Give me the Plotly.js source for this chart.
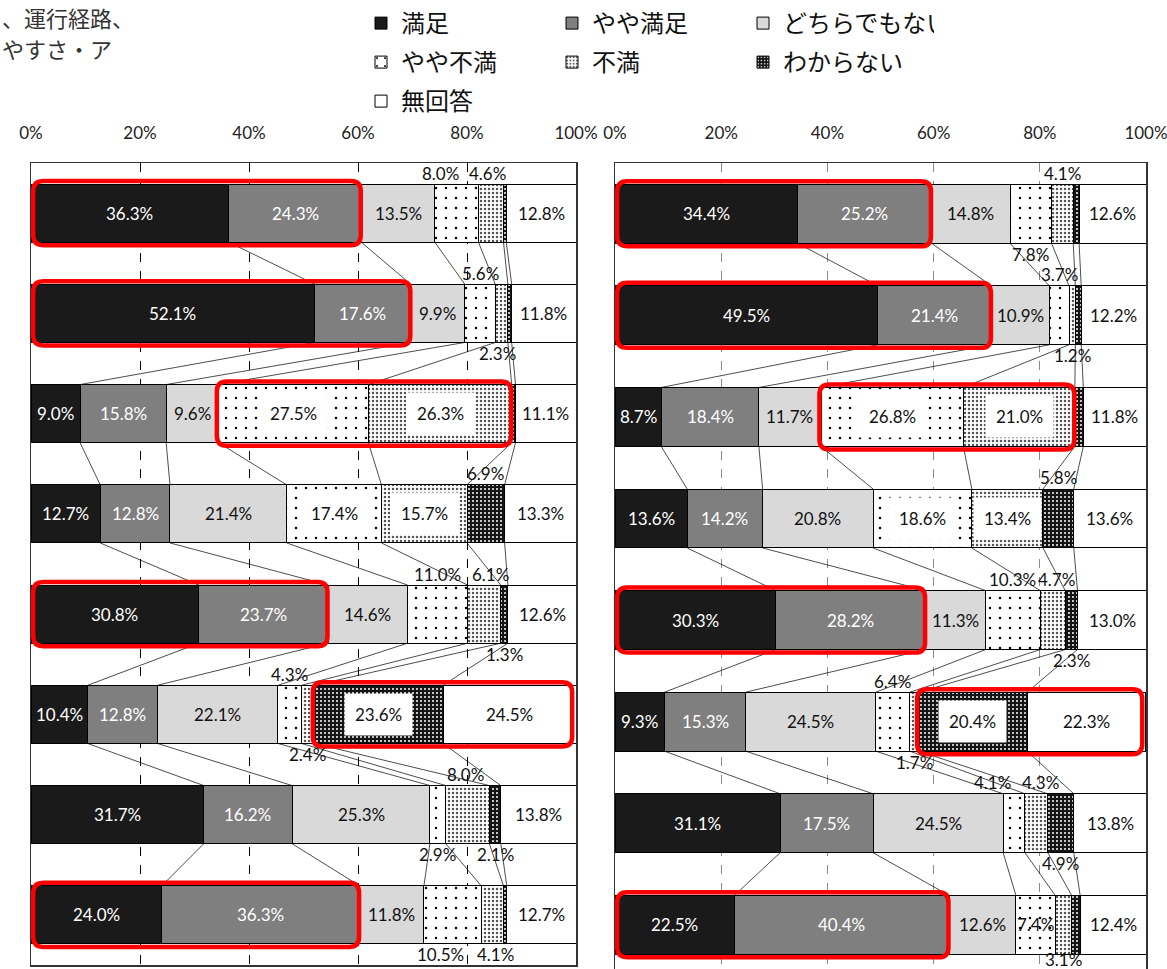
<!DOCTYPE html>
<html><head><meta charset="utf-8">
<script src="https://cdn.plot.ly/plotly-3.0.1.min.js"></script>
<style>html,body{margin:0;padding:0;overflow:hidden;background:#fff}#chart{width:1167px;height:969px}</style>
</head><body><div id="chart"></div><script>
// ---------- data ----------
const categories = ['満足','やや満足','どちらでもない','やや不満','不満','わからない','無回答'];
const items = [1,2,3,4,5,6,7,8];
// left panel
const L_manzoku      = [36.3,52.1, 9.0,12.7,30.8,10.4,31.7,24.0];
const L_yayaManzoku  = [24.3,17.6,15.8,12.8,23.7,12.8,16.2,36.3];
const L_dochira      = [13.5, 9.9, 9.6,21.4,14.6,22.1,25.3,11.8];
const L_yayaFuman    = [ 8.0, 5.6,27.5,17.4,11.0, 4.3, 2.9,10.5];
const L_fuman        = [ 4.6, 2.3,26.3,15.7, 6.1, 2.4, 8.0, 4.1];
const L_wakaranai    = [ 0.5, 0.7, 0.7, 6.9, 1.3,23.6, 2.1, 0.6];
const L_mukaito      = [12.8,11.8,11.1,13.3,12.6,24.5,13.8,12.7];
// right panel
const R_manzoku      = [34.4,49.5, 8.7,13.6,30.3, 9.3,31.1,22.5];
const R_yayaManzoku  = [25.2,21.4,18.4,14.2,28.2,15.3,17.5,40.4];
const R_dochira      = [14.8,10.9,11.7,20.8,11.3,24.5,24.5,12.6];
const R_yayaFuman    = [ 7.8, 3.7,26.8,18.6,10.3, 6.4, 4.1, 7.4];
const R_fuman        = [ 4.1, 1.2,21.0,13.4, 4.7, 1.7, 4.3, 3.1];
const R_wakaranai    = [ 1.1, 1.1, 1.6, 5.8, 2.3,20.4, 4.9, 1.6];
const R_mukaito      = [12.6,12.2,11.8,13.6,13.0,22.3,13.8,12.4];
const xTickVals = [0,20,40,60,80,100];
const xTickText = ['0%','20%','40%','60%','80%','100%'];
const titleLines = ['、運行経路、','やすさ・ア'];

// ---------- label / highlight placement (not data) ----------
// [item, categoryIndex, 'a'bove/'b'elow, xshift px, yshift px]
const outsideL = [[1,3,'a',-16,0],[1,4,'a',-3,0],[2,3,'a',0,0],[2,4,'b',-4,0],[4,5,'a',0,0],[5,3,'a',0,0],[5,4,'a',6,0],[5,5,'b',0,0],
                  [6,3,'a',0,0],[6,4,'b',0,0],[7,4,'a',-2,0],[7,3,'b',0,0],[7,5,'b',0,0],[8,3,'b',-12,0],[8,4,'b',3,0]];
const outsideR = [[1,4,'a',0,0],[1,3,'b',0,0],[2,3,'a',0,0],[2,4,'b',0,0],[4,5,'a',0,0],[5,3,'a',0,0],[5,4,'a',4,0],[5,5,'b',0,0],
                  [6,3,'a',0,0],[6,4,'b',0,0],[7,3,'a',-22,0],[7,4,'a',4,0],[7,5,'b',0,0],[8,4,'b',0,6]];
// [item, firstCat, lastCat]
const highlightL = [[1,0,1],[2,0,1],[3,3,4],[5,0,1],[6,5,6],[8,0,1]];
const highlightR = [[1,0,1],[2,0,1],[3,3,4],[5,0,1],[6,5,6],[8,0,1]];

const NUMFONT = 'Lato, "Noto Sans CJK JP", sans-serif';
const JPFONT = '"Noto Sans CJK JP", sans-serif';

const styles = [
  {color:'#1a1a1a'},
  {color:'#7f7f7f'},
  {color:'#d9d9d9'},
  {color:'#ffffff', pattern:{shape:'.', fgcolor:'#000', bgcolor:'#fff', size:10, solidity:0.05}},
  {color:'#ffffff', pattern:{shape:'.', fgcolor:'#555', bgcolor:'#fff', size:4, solidity:0.3}},
  {color:'#111111', pattern:{shape:'.', fgcolor:'#fff', bgcolor:'#151515', size:4, solidity:0.2}},
  {color:'#ffffff'}
];
const legendOf = k => k<3 ? 'legend' : (k<6 ? 'legend2' : 'legend3');

const traces = [], annotations = [], shapes = [];

function buildPanel(data, xa, ya, outside, highlight, showLeg, pxPerPct) {
  const n = items.length;
  const cum = items.map((_,i)=>{ const c=[0]; data.forEach(arr=>c.push(c[c.length-1]+arr[i])); return c; });
  data.forEach((arr,k)=>{
    const m = {color:styles[k].color, line:{color:'#000', width:1}};
    if (styles[k].pattern) m.pattern = styles[k].pattern;
    traces.push({type:'bar', orientation:'h', name:categories[k], x:arr, y:items, width:0.58,
      xaxis:xa, yaxis:ya, marker:m, showlegend:showLeg, legend:legendOf(k), hoverinfo:'skip'});
  });
  // series lines
  const lx=[], ly=[];
  for (let i=0;i<n-1;i++) for (let k=1;k<=6;k++) {
    lx.push(cum[i][k], cum[i+1][k], null); ly.push(items[i]+0.29, items[i+1]-0.29, null);
  }
  traces.push({type:'scatter', mode:'lines', x:lx, y:ly, xaxis:xa, yaxis:ya, showlegend:false,
    hoverinfo:'skip', line:{color:'#000', width:0.7}});
  // labels
  const outKey = {}; outside.forEach(o=>outKey[o[0]+'_'+o[1]] = o);
  const axX = xa==='x' ? 'x' : 'x2', axY = ya==='y' ? 'y' : 'y2';
  data.forEach((arr,k)=>arr.forEach((v,i)=>{
    const txt = v.toFixed(1)+'%';
    const mid = cum[i][k] + v/2;
    const o = outKey[items[i]+'_'+k];
    if (o) {
      annotations.push({xref:axX, yref:axY, x:mid, y:items[i] + (o[2]==='a' ? -0.4 : 0.4), xshift:o[3], yshift:o[4],
        text:txt, showarrow:false, font:{family:NUMFONT, size:17, color:'#111'}});
    } else if (v >= 7) {
      const white = k<2;
      const boxed = (k>=3 && k<=5) && v >= 9;
      const a = {xref:axX, yref:axY, x:mid, y:items[i], text:txt, showarrow:false,
        font:{family:NUMFONT, size:17, color: white ? '#fff' : '#111'}};
      if (boxed) { a.bgcolor = '#fff'; a.borderpad = 10; }
      annotations.push(a);
    }
  }));
  // highlight boxes
  highlight.forEach(h=>{
    const i = items.indexOf(h[0]);
    let x0 = Math.max(cum[i][h[1]] - 0.3, 0.4), x1 = Math.min(cum[i][h[2]+1] - 0.1, 99.3);
    const y0 = h[0]-0.32, y1 = h[0]+0.32;
    const rx = 10/pxPerPct, ry = 0.1;
    const p = `M${x0+rx},${y0} L${x1-rx},${y0} Q${x1},${y0} ${x1},${y0+ry} L${x1},${y1-ry} Q${x1},${y1} ${x1-rx},${y1} L${x0+rx},${y1} Q${x0},${y1} ${x0},${y1-ry} L${x0},${y0+ry} Q${x0},${y0} ${x0+rx},${y0} Z`;
    shapes.push({type:'path', path:p, xref:axX, yref:axY, line:{color:'#ff0000', width:4.5}, fillcolor:'rgba(0,0,0,0)', layer:'above'});
  });
}

buildPanel([L_manzoku,L_yayaManzoku,L_dochira,L_yayaFuman,L_fuman,L_wakaranai,L_mukaito],'x','y',outsideL,highlightL,true,5.45);
buildPanel([R_manzoku,R_yayaManzoku,R_dochira,R_yayaFuman,R_fuman,R_wakaranai,R_mukaito],'x2','y2',outsideR,highlightR,false,5.31);

titleLines.forEach((t,j)=>annotations.push({xref:'paper', yref:'paper', x:0, y:1-(17+31*j)/969, xanchor:'left', yanchor:'middle',
  text:t, showarrow:false, font:{family:JPFONT, size:22, color:'#333'}}));

const W=1167, H=969;
const xCommon = {range:[0,100], side:'top', tickvals:xTickVals, ticktext:xTickText, showgrid:true, griddash:'dash',
  gridwidth:1, showline:true, mirror:true, linecolor:'#333', linewidth:1.5, zeroline:false, ticks:'',
  ticklabelstandoff:16, ticklabeloverflow:'allow', tickfont:{family:NUMFONT, size:17, color:'#222'}, fixedrange:true};
const yCommon = {showticklabels:false, showgrid:false, zeroline:false, showline:true, mirror:true, linecolor:'#333', linewidth:1.5, ticks:''};
const legCommon = {orientation:'h', xanchor:'left', yanchor:'top', entrywidth:146, entrywidthmode:'pixels',
  font:{family:JPFONT, size:24, color:'#111'}, bgcolor:'rgba(0,0,0,0)', itemwidth:30, traceorder:'normal', tracegroupgap:0};

const layout = {
  width:W, height:H, margin:{l:0,r:0,t:0,b:0}, paper_bgcolor:'#fff', plot_bgcolor:'#fff',
  barmode:'stack', showlegend:true,
  xaxis: Object.assign({}, xCommon, {domain:[31/W, 576/W], anchor:'y', gridcolor:'#000'}),
  yaxis: Object.assign({}, yCommon, {domain:[1-965/H, 1-163/H], range:[8.5,0.5], anchor:'x'}),
  xaxis2: Object.assign({}, xCommon, {domain:[615/W, 1146/W], anchor:'y2', gridcolor:'#8a8a8a'}),
  yaxis2: Object.assign({}, yCommon, {domain:[0, 1-163/H], range:[8.435,0.5], anchor:'x2'}),
  legend: Object.assign({}, legCommon, {x:361/W, y:1-1/H}),
  legend2: Object.assign({}, legCommon, {x:361/W, y:1-40/H}),
  legend3: Object.assign({}, legCommon, {x:361/W, y:1-79/H}),
  annotations, shapes
};
Plotly.newPlot('chart', traces, layout, {displayModeBar:false, staticPlot:true});
</script></body></html>
